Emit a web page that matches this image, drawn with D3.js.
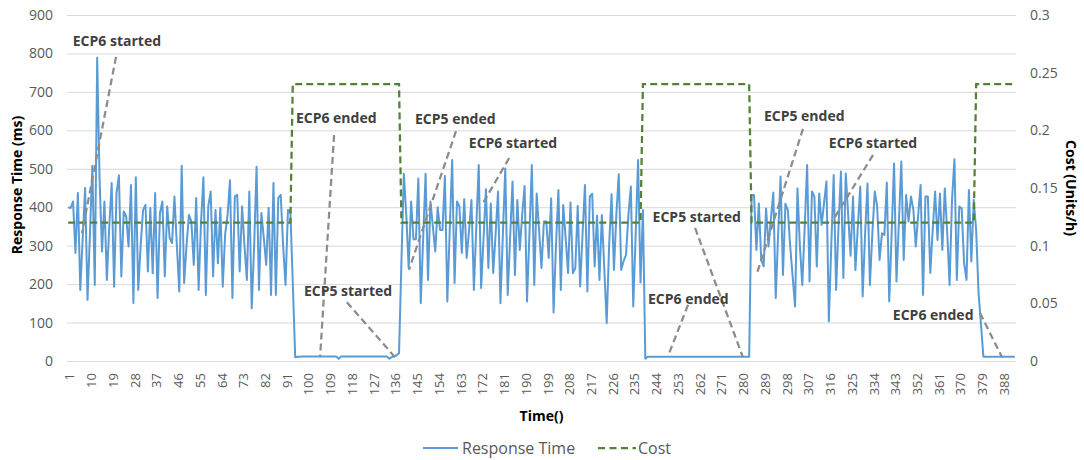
<!DOCTYPE html>
<html><head><meta charset="utf-8">
<script src="https://cdn.jsdelivr.net/npm/d3@7"></script>
<style>
body{margin:0;background:#fff;}
svg text{font-family:'Open Sans',sans-serif;}
</style></head><body>
<svg id="chart" width="1084" height="460"></svg>
<script>
// ---------- data ----------
const responseTime = [
400,398,415,281,437,185,320,450,159,330,
508,198,789,470,285,415,211,350,463,193,
437,483,220,389,376,298,458,151,478,185,
300,393,406,233,398,228,437,164,385,415,
220,402,320,307,428,300,181,508,203,300,
380,363,250,424,185,360,478,172,402,441,
220,393,254,398,193,330,380,470,164,428,
432,233,402,300,211,441,137,300,505,185,
385,320,250,398,172,463,172,424,432,300,
198,393,390,203,10,11,11,12,12,12,
12,12,12,12,12,12,12,12,12,12,
12,12,6,12,12,12,12,12,12,12,
12,12,12,12,12,12,12,12,12,12,
12,12,12,6,10,12,15,20,260,487,
380,242,415,317,317,475,150,320,487,211,
415,350,285,400,341,341,481,155,340,523,
203,415,402,281,421,268,340,419,185,350,
510,190,320,447,242,410,229,330,441,150,
330,501,172,320,467,224,419,289,380,455,
155,330,510,198,436,340,242,363,363,268,
423,126,300,445,185,406,320,229,412,229,
242,403,194,330,458,181,428,435,246,378,
211,380,240,99,300,434,237,380,486,237,
260,276,380,454,142,330,523,204,393,6,
11,11,11,11,11,11,11,11,11,11,
11,11,11,11,11,11,11,11,11,11,
11,11,11,11,11,11,11,11,11,11,
11,11,11,11,11,11,11,11,11,11,
11,11,11,432,432,289,410,263,246,397,
298,370,438,164,330,480,224,409,393,298,
220,142,449,300,198,350,510,207,441,428,
246,436,354,410,467,103,300,484,185,350,
493,216,488,380,274,428,237,350,454,168,
330,462,198,330,441,402,263,332,328,464,
155,330,514,207,360,519,263,432,363,428,
393,298,380,458,172,428,428,229,340,441,
315,436,289,449,337,198,419,525,211,402,
397,255,211,445,259,419,340,176,95,11,
11,11,11,11,11,11,11,11,11,11,
11,11,11
];
const cost = [
0.12,0.12,0.12,0.12,0.12,0.12,0.12,0.12,0.12,0.12,
0.12,0.12,0.12,0.12,0.12,0.12,0.12,0.12,0.12,0.12,
0.12,0.12,0.12,0.12,0.12,0.12,0.12,0.12,0.12,0.12,
0.12,0.12,0.12,0.12,0.12,0.12,0.12,0.12,0.12,0.12,
0.12,0.12,0.12,0.12,0.12,0.12,0.12,0.12,0.12,0.12,
0.12,0.12,0.12,0.12,0.12,0.12,0.12,0.12,0.12,0.12,
0.12,0.12,0.12,0.12,0.12,0.12,0.12,0.12,0.12,0.12,
0.12,0.12,0.12,0.12,0.12,0.12,0.12,0.12,0.12,0.12,
0.12,0.12,0.12,0.12,0.12,0.12,0.12,0.12,0.12,0.12,
0.12,0.12,0.12,0.24,0.24,0.24,0.24,0.24,0.24,0.24,
0.24,0.24,0.24,0.24,0.24,0.24,0.24,0.24,0.24,0.24,
0.24,0.24,0.24,0.24,0.24,0.24,0.24,0.24,0.24,0.24,
0.24,0.24,0.24,0.24,0.24,0.24,0.24,0.24,0.24,0.24,
0.24,0.24,0.24,0.24,0.24,0.24,0.24,0.24,0.12,0.12,
0.12,0.12,0.12,0.12,0.12,0.12,0.12,0.12,0.12,0.12,
0.12,0.12,0.12,0.12,0.12,0.12,0.12,0.12,0.12,0.12,
0.12,0.12,0.12,0.12,0.12,0.12,0.12,0.12,0.12,0.12,
0.12,0.12,0.12,0.12,0.12,0.12,0.12,0.12,0.12,0.12,
0.12,0.12,0.12,0.12,0.12,0.12,0.12,0.12,0.12,0.12,
0.12,0.12,0.12,0.12,0.12,0.12,0.12,0.12,0.12,0.12,
0.12,0.12,0.12,0.12,0.12,0.12,0.12,0.12,0.12,0.12,
0.12,0.12,0.12,0.12,0.12,0.12,0.12,0.12,0.12,0.12,
0.12,0.12,0.12,0.12,0.12,0.12,0.12,0.12,0.12,0.12,
0.12,0.12,0.12,0.12,0.12,0.12,0.12,0.12,0.24,0.24,
0.24,0.24,0.24,0.24,0.24,0.24,0.24,0.24,0.24,0.24,
0.24,0.24,0.24,0.24,0.24,0.24,0.24,0.24,0.24,0.24,
0.24,0.24,0.24,0.24,0.24,0.24,0.24,0.24,0.24,0.24,
0.24,0.24,0.24,0.24,0.24,0.24,0.24,0.24,0.24,0.24,
0.24,0.24,0.24,0.12,0.12,0.12,0.12,0.12,0.12,0.12,
0.12,0.12,0.12,0.12,0.12,0.12,0.12,0.12,0.12,0.12,
0.12,0.12,0.12,0.12,0.12,0.12,0.12,0.12,0.12,0.12,
0.12,0.12,0.12,0.12,0.12,0.12,0.12,0.12,0.12,0.12,
0.12,0.12,0.12,0.12,0.12,0.12,0.12,0.12,0.12,0.12,
0.12,0.12,0.12,0.12,0.12,0.12,0.12,0.12,0.12,0.12,
0.12,0.12,0.12,0.12,0.12,0.12,0.12,0.12,0.12,0.12,
0.12,0.12,0.12,0.12,0.12,0.12,0.12,0.12,0.12,0.12,
0.12,0.12,0.12,0.12,0.12,0.12,0.12,0.12,0.12,0.12,
0.12,0.12,0.12,0.12,0.12,0.12,0.24,0.24,0.24,0.24,
0.24,0.24,0.24,0.24,0.24,0.24,0.24,0.24,0.24,0.24,
0.24,0.24,0.24
];
const categories = d3.range(1, responseTime.length + 1);
const xTickLabels = [1,10,19,28,37,46,55,64,73,82,91,100,109,118,127,136,145,154,163,172,181,190,199,208,217,226,235,244,253,262,271,280,289,298,307,316,325,334,343,352,361,370,379,388];
const leftTicks = [0,100,200,300,400,500,600,700,800,900];
const rightTicks = [0,0.05,0.1,0.15,0.2,0.25,0.3];
const annotationTexts = ["ECP6 started","ECP6 ended","ECP5 started","ECP5 ended","ECP6 started","ECP5 started","ECP6 ended","ECP5 ended","ECP6 started","ECP6 ended"];
// label anchor (category, ms) and leader line from/to (category, ms)
const annotationLabelAt = [[2.9,819],[95.3,619],[98.6,169],[144.6,617],[166.9,554],[243.0,362],[241.1,148],[289.1,625],[316.0,554],[342.5,107]];
const leaderFrom = [[20.8,791],[111.1,588],[116.4,153],[161.6,598],[183.6,528],[260.6,346],[257.7,146],[305.3,604],[334.3,536],[378.6,125]];
const leaderTo = [[6.7,333],[105.3,10],[136.3,10],[142.1,237],[172.8,411],[280.4,10],[249.4,13],[286.3,229],[317.3,362],[387.7,10]];

// ---------- layout ----------
const svg = d3.select("#chart");
const L = 67, R = 1016, T = 15, B = 361;
const x = d3.scaleLinear().domain([0.5, categories.length + 0.5]).range([L, R]);
const yL = d3.scaleLinear().domain([0, 900]).range([B, T]);
const yR = d3.scaleLinear().domain([0, 0.3]).range([B, T]);
const tickColor = "#595959";

// gridlines
const grid = svg.append("g").attr("transform", `translate(${L},0)`)
  .call(d3.axisLeft(yL).tickValues(leftTicks).tickSize(-(R - L)).tickFormat(""));
grid.select(".domain").remove();
grid.selectAll("line").attr("stroke", "#d9d9d9").attr("stroke-width", 1);

// left axis labels
const ax = svg.append("g").attr("transform", `translate(${L},0)`)
  .call(d3.axisLeft(yL).tickValues(leftTicks).tickSize(0).tickPadding(14));
ax.select(".domain").remove();
ax.selectAll("text").attr("fill", tickColor).style("font-size", "14px").style("font-family", "'Open Sans',sans-serif");

// right axis labels
const ar = svg.append("g").attr("transform", `translate(${R},0)`)
  .call(d3.axisRight(yR).tickValues(rightTicks).tickSize(0).tickPadding(14).tickFormat(d3.format("~g")));
ar.select(".domain").remove();
ar.selectAll("text").attr("fill", tickColor).style("font-size", "14px").style("font-family", "'Open Sans',sans-serif");

// bottom axis labels
const ab = svg.append("g").attr("transform", `translate(0,${B})`)
  .call(d3.axisBottom(x).tickValues(xTickLabels).tickSize(0).tickFormat(d3.format("d")));
ab.select(".domain").remove();
ab.selectAll("text")
  .attr("transform", "rotate(-90)")
  .attr("x", -12).attr("y", 1).attr("dy", "0.36em")
  .style("text-anchor", "end")
  .attr("fill", tickColor).style("font-size", "13px").style("font-family", "'Open Sans',sans-serif");

// series
const lineRT = d3.line().x((d, i) => x(categories[i])).y(d => yL(d));
svg.append("path").datum(responseTime)
  .attr("d", lineRT).attr("fill", "none")
  .attr("stroke", "#5B9BD5").attr("stroke-width", 2).attr("stroke-linejoin", "round");

const lineCost = d3.line().x((d, i) => x(categories[i])).y(d => yR(d));
svg.append("path").datum(cost)
  .attr("d", lineCost).attr("fill", "none")
  .attr("stroke", "#548235").attr("stroke-width", 2.25).attr("stroke-dasharray", "7,4");

// annotations
annotationTexts.forEach((t, k) => {
  svg.append("line")
    .attr("x1", x(leaderFrom[k][0])).attr("y1", yL(leaderFrom[k][1]))
    .attr("x2", x(leaderTo[k][0])).attr("y2", yL(leaderTo[k][1]))
    .attr("stroke", "#8c8c8c").attr("stroke-width", 2.25).attr("stroke-dasharray", "7,4");
});
annotationTexts.forEach((t, k) => {
  svg.append("text")
    .attr("x", x(annotationLabelAt[k][0])).attr("y", yL(annotationLabelAt[k][1]))
    .attr("fill", "#404040").style("font-size", "14px").style("font-weight", "bold")
    .text(t);
});

// axis titles
svg.append("text").attr("transform", "translate(22,185) rotate(-90)")
  .attr("text-anchor", "middle").style("font-size", "14px").style("font-weight", "bold")
  .attr("fill", "#000").text("Response Time (ms)");
svg.append("text").attr("transform", "translate(1066,188) rotate(90)")
  .attr("text-anchor", "middle").style("font-size", "14px").style("font-weight", "bold")
  .attr("fill", "#000").text("Cost (Units/h)");
svg.append("text").attr("x", (L + R) / 2).attr("y", 421)
  .attr("text-anchor", "middle").style("font-size", "14px").style("font-weight", "bold")
  .attr("fill", "#000").text("Time()");

// legend
const lg = svg.append("g");
lg.append("line").attr("x1", 423).attr("x2", 458).attr("y1", 448).attr("y2", 448)
  .attr("stroke", "#5B9BD5").attr("stroke-width", 2);
lg.append("text").attr("x", 462).attr("y", 448).attr("dy", "0.35em")
  .style("font-size", "16px").attr("fill", tickColor).text("Response Time");
lg.append("line").attr("x1", 598).attr("x2", 636).attr("y1", 448).attr("y2", 448)
  .attr("stroke", "#548235").attr("stroke-width", 2.25).attr("stroke-dasharray", "7,4.5");
lg.append("text").attr("x", 638).attr("y", 448).attr("dy", "0.35em")
  .style("font-size", "16px").attr("fill", tickColor).text("Cost");
</script>
</body></html>
